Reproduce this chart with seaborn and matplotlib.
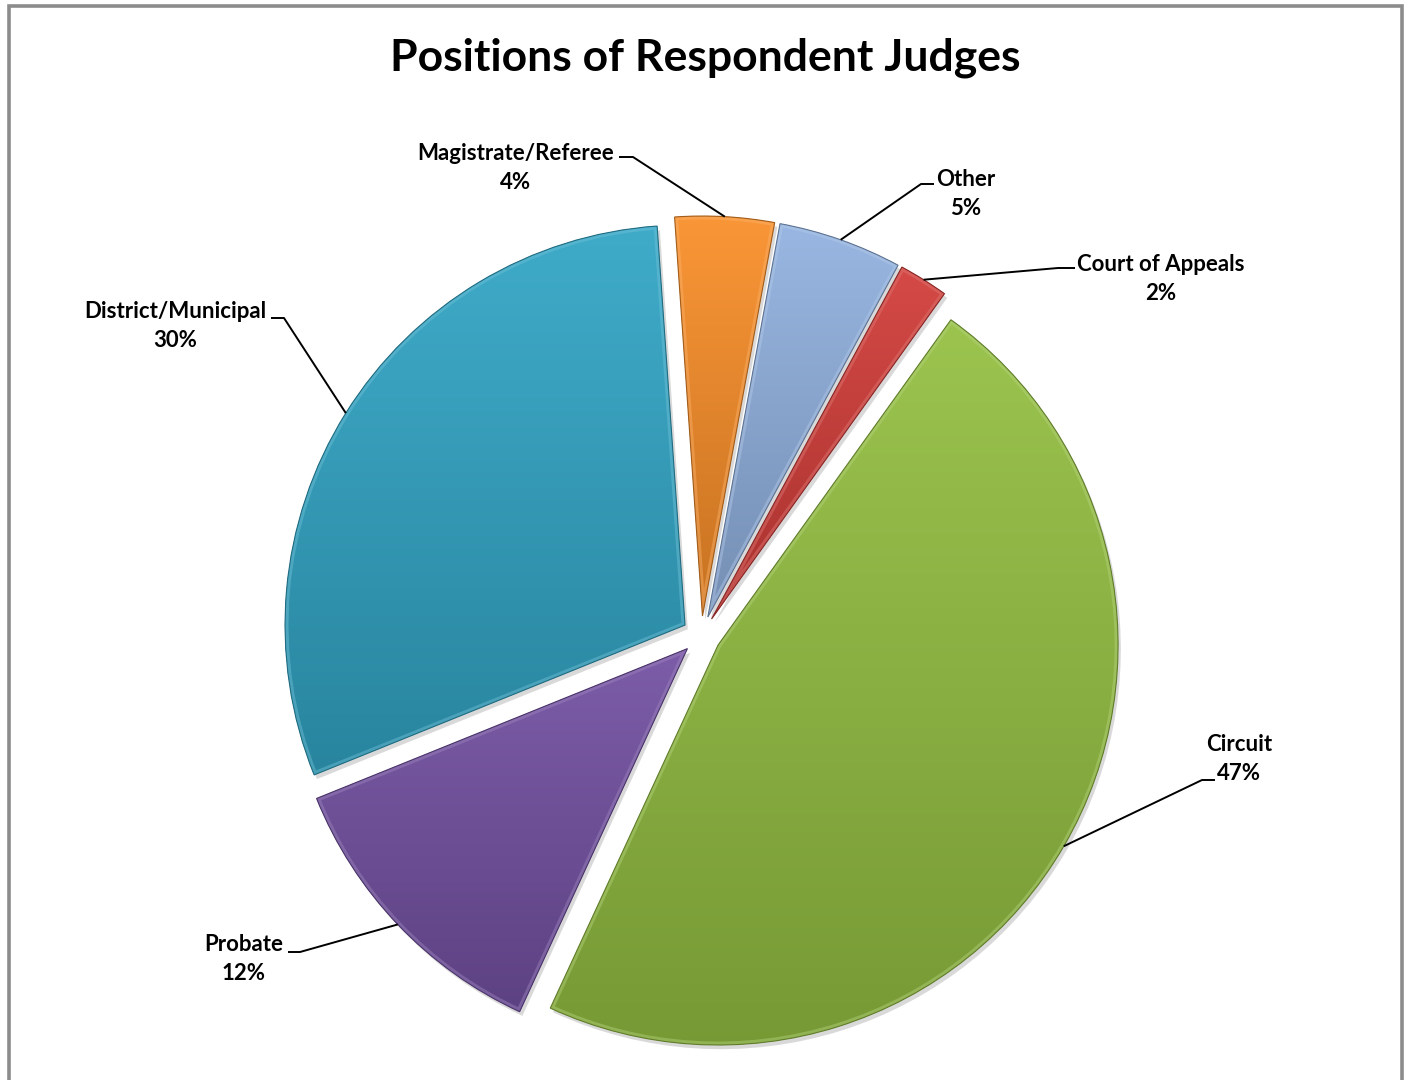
import numpy as np
import matplotlib
matplotlib.use("Agg")
import matplotlib.pyplot as plt
import matplotlib.patheffects as pe
from matplotlib.patches import PathPatch
from matplotlib.colors import to_rgb
import seaborn as sns

# Survey results: position held by each responding judge
categories = ["Magistrate/Referee", "Other", "Court of Appeals",
              "Circuit", "Probate", "District/Municipal"]
shares = [4, 5, 2, 47, 12, 30]
pct_labels = ["4%", "5%", "2%", "47%", "12%", "30%"]
palette = ["#F98F2A", "#92B2E0", "#D23E3A", "#95C043", "#7452A3", "#33A6C6"]

sns.set_theme(style="white")
plt.rcParams["font.family"] = ["Lato", "DejaVu Sans"]
colors = sns.color_palette(palette)

W, H = 1409, 1080
fig = plt.figure(figsize=(W / 100, H / 100), dpi=100)
ax = fig.add_axes([0, 0, 1, 1])

cx, cy, R = 701.4, H - 635.3, 400
wedges, _ = ax.pie(shares, startangle=94, counterclock=False,
                   center=(cx, cy), radius=R, explode=[19.3] * len(shares),
                   colors=colors)


def shade(c, f):
    c = np.array(to_rgb(c))
    return np.clip(c * f, 0, 1) if f < 1 else c + (1 - c) * (f - 1)


for w, c in zip(wedges, colors):
    w.set_zorder(1)
    w.set_edgecolor("none")
    w.set_path_effects([pe.SimplePatchShadow(offset=(2, -3), alpha=0.22, shadow_rgbFace="#555555"),
                        pe.Normal()])
    path = w.get_path()
    bb = path.get_extents()
    n = 256
    top, bot = shade(c, 1.06), shade(c, 0.80)
    t = np.linspace(0, 1, n)[:, None]
    grad = (top[None, :] * (1 - t) + bot[None, :] * t)[:, None, :]
    im = ax.imshow(grad, extent=(bb.x0, bb.x1, bb.y0, bb.y1), origin="upper",
                   aspect="auto", zorder=2, interpolation="bilinear")
    im.set_clip_path(w)
    # bevel: light band inside the rim, thin dark outline
    rim = PathPatch(path, facecolor="none", edgecolor=shade(c, 1.3),
                    linewidth=5, alpha=0.45, zorder=3)
    ax.add_patch(rim)
    rim.set_clip_path(w)
    ax.add_patch(PathPatch(path, facecolor="none", edgecolor=shade(c, 0.65),
                           linewidth=0.8, zorder=4))

# label block centres and leader stubs (image y measured from top)
label_pos = [(516, 168), (966, 194), (1161, 279),
             (1239, 759), (244, 959), (175, 326)]
stubs = [((619, 157), (633, 157)), ((934, 184), (921, 184)),
         ((1075, 268), (1058, 268)), ((1215, 780), (1202, 780)),
         ((288, 952), (300, 952)), ((271, 318), (284, 318))]

for w, name, pct, (lx, ly), (s0, s1) in zip(wedges, categories, pct_labels,
                                            label_pos, stubs):
    ax.text(lx, H - ly, f"{name}\n{pct}", ha="center", va="center",
            multialignment="center", fontsize=16, fontweight="bold",
            linespacing=1.5, color="black", zorder=6)
    mid = np.deg2rad(0.5 * (w.theta1 + w.theta2))
    ex = w.center[0] + w.r * np.cos(mid)
    ey = w.center[1] + w.r * np.sin(mid)
    ax.plot([s0[0], s1[0], ex], [H - s0[1], H - s1[1], ey],
            color="black", linewidth=1.4, zorder=6, solid_capstyle="butt")

ax.text(705, H - 58, "Positions of Respondent Judges", ha="center",
        va="center", fontsize=32, fontweight="bold", color="black")

# chart area border
ax.plot([8.5, 8.5, 1402, 1402], [0, H - 5.5, H - 5.5, 0],
        color="#8C8C8C", linewidth=2.6, solid_joinstyle="miter", zorder=7)

ax.set_xlim(0, W)
ax.set_ylim(0, H)
ax.set_aspect("equal")
ax.axis("off")

fig.savefig("out.png", dpi=100, facecolor="white")
